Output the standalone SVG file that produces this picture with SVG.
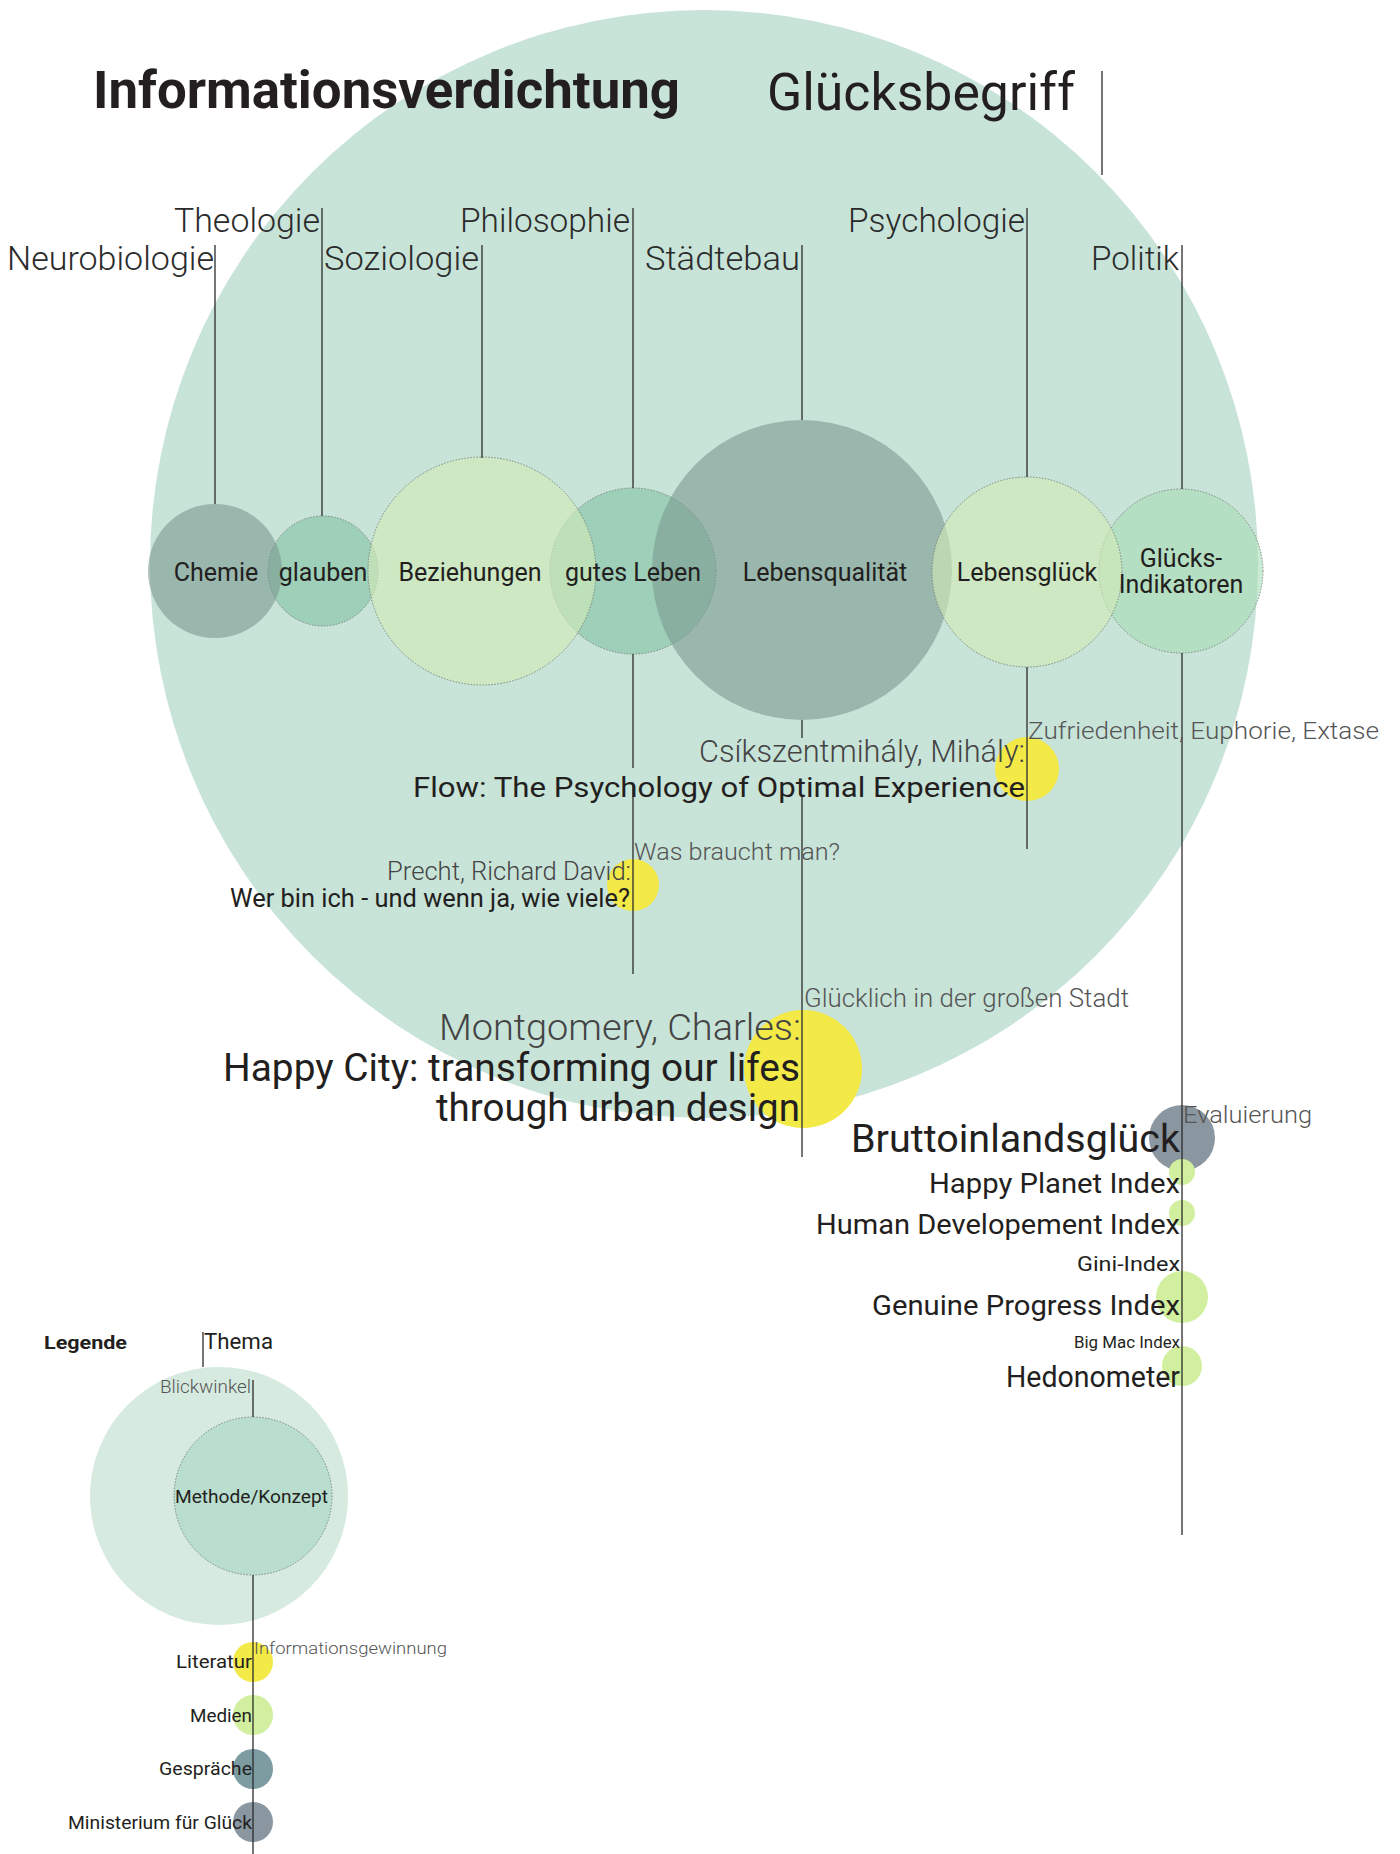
<svg xmlns="http://www.w3.org/2000/svg" width="1400" height="1854" viewBox="0 0 1400 1854">
<style>
text{font-family:Roboto,Inter,"Liberation Sans",sans-serif;fill:#231f20}
.b{font-weight:700}
.l{font-weight:300}
.g{fill:#555}
.g2{fill:#444}
.cat{font-size:33px;font-weight:300;fill:#2b2b2b}
.node{font-size:25px;text-anchor:middle}
.ln{stroke:#2b2b2b;stroke-width:1.3;fill:none}
.dot{stroke:#7d8a84;stroke-width:1;stroke-dasharray:1.5 1.5}
.gray{fill:#7a9990;fill-opacity:.6}
.grn{fill:#82c2a3;fill-opacity:.6}
.pale{fill:#d4ebb8;fill-opacity:.6}
.ind{fill:#a8dcb5;fill-opacity:.6}
.yel{fill:#f3ea48}
.lime{fill:#d1ef9f}
.slate{fill:#8a96a0}
.teal{fill:#7d9ca1}
</style>

<g id="hintergrund">
<circle cx="704" cy="564" r="554" fill="#c8e3d8"/>
</g>

<g id="titel">
<text class="b" x="93" y="108" font-size="51" textLength="587" lengthAdjust="spacingAndGlyphs">Informationsverdichtung</text>
<text x="767" y="110" font-size="52" textLength="308" lengthAdjust="spacingAndGlyphs">Glücksbegriff</text>
</g>

<g id="blickwinkel">
<text class="cat" x="174" y="232" textLength="146" lengthAdjust="spacingAndGlyphs">Theologie</text>
<text class="cat" x="7" y="270" textLength="207" lengthAdjust="spacingAndGlyphs">Neurobiologie</text>
<text class="cat" x="324" y="270" textLength="155" lengthAdjust="spacingAndGlyphs">Soziologie</text>
<text class="cat" x="460" y="232" textLength="170" lengthAdjust="spacingAndGlyphs">Philosophie</text>
<text class="cat" x="645" y="270" textLength="155" lengthAdjust="spacingAndGlyphs">Städtebau</text>
<text class="cat" x="848" y="232" textLength="177" lengthAdjust="spacingAndGlyphs">Psychologie</text>
<text class="cat" x="1091" y="270" textLength="88" lengthAdjust="spacingAndGlyphs">Politik</text>
</g>

<g id="node-glauben"><circle class="grn dot" cx="323" cy="571" r="55"/></g>
<g id="node-gutes-leben"><circle class="grn dot" cx="633" cy="571" r="83"/></g>
<g id="node-gluecks-indikatoren"><circle class="ind dot" cx="1181" cy="571" r="82"/></g>
<g id="node-chemie"><circle class="gray" cx="215" cy="571" r="67"/></g>
<g id="node-beziehungen"><circle class="pale dot" cx="482" cy="571" r="114"/></g>
<g id="node-lebensqualitaet"><circle class="gray" cx="802" cy="570" r="150"/></g>
<g id="node-lebensglueck"><circle class="pale dot" cx="1027" cy="572" r="95"/></g>

<g id="literatur-kreise">
<circle class="yel" cx="1027" cy="769" r="32"/>
<circle class="yel" cx="633" cy="885" r="26"/>
<circle class="yel" cx="803" cy="1069" r="59"/>
</g>

<g id="indikatoren-kreise">
<circle class="slate" cx="1182" cy="1138" r="33"/>
<circle class="lime" cx="1182" cy="1172" r="13"/>
<circle class="lime" cx="1182" cy="1213" r="13"/>
<circle class="lime" cx="1182" cy="1297" r="26"/>
<circle class="lime" cx="1182" cy="1366" r="20"/>
</g>

<g id="connectors" class="ln">
<line x1="1102" y1="71" x2="1102" y2="175"/>
<line x1="215" y1="245" x2="215" y2="504"/>
<line x1="322" y1="208" x2="322" y2="516"/>
<line x1="482" y1="245" x2="482" y2="458"/>
<line x1="633" y1="208" x2="633" y2="488"/>
<line x1="802" y1="245" x2="802" y2="420"/>
<line x1="1027" y1="208" x2="1027" y2="477"/>
<line x1="1182" y1="245" x2="1182" y2="489"/>
<line x1="633" y1="654" x2="633" y2="768"/>
<line x1="633" y1="784" x2="633" y2="974"/>
<line x1="802" y1="720" x2="802" y2="738"/>
<line x1="802" y1="795" x2="802" y2="1157"/>
<line x1="1027" y1="667" x2="1027" y2="849"/>
<line x1="1182" y1="653" x2="1182" y2="1535"/>
</g>

<g id="knoten-texte">
<text class="node" x="216" y="581">Chemie</text>
<text class="node" x="323" y="581">glauben</text>
<text class="node" x="470" y="581">Beziehungen</text>
<text class="node" x="633" y="581">gutes Leben</text>
<text class="node" x="825" y="581">Lebensqualität</text>
<text class="node" x="1027" y="581">Lebensglück</text>
<text class="node" x="1181" y="567">Glücks-</text>
<text class="node" x="1181" y="593">Indikatoren</text>
</g>

<g id="literatur-flow">
<text class="l g" x="1028" y="739" font-size="24" textLength="351" lengthAdjust="spacingAndGlyphs">Zufriedenheit, Euphorie, Extase</text>
<text class="l g2" x="699" y="762" font-size="31" textLength="326" lengthAdjust="spacingAndGlyphs">Csíkszentmihály, Mihály:</text>
<text x="413" y="797" font-size="28" textLength="612" lengthAdjust="spacingAndGlyphs">Flow: The Psychology of Optimal Experience</text>
</g>

<g id="literatur-precht">
<text class="l g" x="634" y="860" font-size="23" textLength="206" lengthAdjust="spacingAndGlyphs">Was braucht man?</text>
<text class="l g2" x="387" y="880" font-size="26" textLength="244" lengthAdjust="spacingAndGlyphs">Precht, Richard David:</text>
<text x="230" y="907" font-size="25" textLength="400" lengthAdjust="spacingAndGlyphs">Wer bin ich - und wenn ja, wie viele?</text>
</g>

<g id="literatur-montgomery">
<text class="l g" x="804" y="1007" font-size="25" textLength="325" lengthAdjust="spacingAndGlyphs">Glücklich in der großen Stadt</text>
<text class="l g2" x="439" y="1040" font-size="37" textLength="362" lengthAdjust="spacingAndGlyphs">Montgomery, Charles:</text>
<text x="223" y="1081" font-size="38" textLength="577" lengthAdjust="spacingAndGlyphs">Happy City: transforming our lifes</text>
<text x="436" y="1121" font-size="38" textLength="364" lengthAdjust="spacingAndGlyphs">through urban design</text>
</g>

<g id="indikatoren-texte">
<text class="l g" x="1183" y="1123" font-size="24" textLength="129" lengthAdjust="spacingAndGlyphs">Evaluierung</text>
<text x="851" y="1152" font-size="38" textLength="329" lengthAdjust="spacingAndGlyphs">Bruttoinlandsglück</text>
<text x="929" y="1193" font-size="27" textLength="251" lengthAdjust="spacingAndGlyphs">Happy Planet Index</text>
<text x="816" y="1234" font-size="27" textLength="364" lengthAdjust="spacingAndGlyphs">Human Developement Index</text>
<text x="1077" y="1271" font-size="20" textLength="103" lengthAdjust="spacingAndGlyphs">Gini-Index</text>
<text x="872" y="1315" font-size="28" textLength="308" lengthAdjust="spacingAndGlyphs">Genuine Progress Index</text>
<text x="1074" y="1348" font-size="16" textLength="106" lengthAdjust="spacingAndGlyphs">Big Mac Index</text>
<text x="1006" y="1387" font-size="29" textLength="174" lengthAdjust="spacingAndGlyphs">Hedonometer</text>
</g>

<g id="legende">
<circle cx="219" cy="1496" r="129" fill="#d6eadf"/>
<circle class="dot" cx="253" cy="1496" r="79" fill="#b9ddce"/>
<circle class="yel" cx="253" cy="1662" r="20"/>
<circle class="lime" cx="253" cy="1715" r="20"/>
<circle class="teal" cx="253" cy="1769" r="20"/>
<circle class="slate" cx="253" cy="1822" r="20"/>
<line class="ln" x1="203" y1="1332" x2="203" y2="1367"/>
<line class="ln" x1="253" y1="1380" x2="253" y2="1417"/>
<line class="ln" x1="253" y1="1575" x2="253" y2="1854"/>
<text class="b" x="44" y="1349" font-size="19" textLength="83" lengthAdjust="spacingAndGlyphs">Legende</text>
<text x="204" y="1349" font-size="22" textLength="69" lengthAdjust="spacingAndGlyphs">Thema</text>
<text class="l g" x="160" y="1393" font-size="19" textLength="91" lengthAdjust="spacingAndGlyphs">Blickwinkel</text>
<text x="175" y="1503" font-size="18" textLength="153" lengthAdjust="spacingAndGlyphs">Methode/Konzept</text>
<text class="l g" x="254" y="1654" font-size="17" textLength="193" lengthAdjust="spacingAndGlyphs">Informationsgewinnung</text>
<text x="176" y="1668" font-size="18" textLength="76" lengthAdjust="spacingAndGlyphs">Literatur</text>
<text x="190" y="1722" font-size="18" textLength="62" lengthAdjust="spacingAndGlyphs">Medien</text>
<text x="159" y="1775" font-size="18" textLength="93" lengthAdjust="spacingAndGlyphs">Gespräche</text>
<text x="68" y="1829" font-size="18" textLength="184" lengthAdjust="spacingAndGlyphs">Ministerium für Glück</text>
</g>
</svg>
